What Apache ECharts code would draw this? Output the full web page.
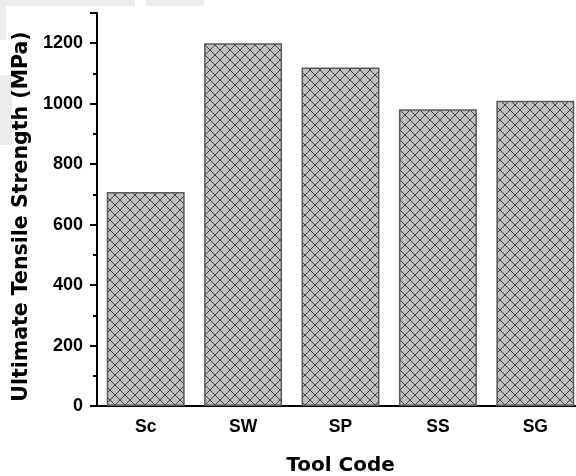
<!DOCTYPE html>
<html>
<head>
<meta charset="utf-8">
<script src="https://cdn.jsdelivr.net/npm/echarts@6/dist/echarts.min.js"></script>
<style>html,body{margin:0;padding:0;background:#fff;}#c{width:576px;height:476px;}</style>
</head>
<body>
<div id="c"></div>
<script>
var categories = ['Sc', 'SW', 'SP', 'SS', 'SG'];
var strengthValues = [708, 1200, 1120, 982, 1010];
var yTickLabels = [0, 200, 400, 600, 800, 1000, 1200];

function makePattern() {
  var s = 10;
  var cv = document.createElement('canvas');
  cv.width = s; cv.height = s;
  var ctx = cv.getContext('2d');
  ctx.fillStyle = '#c0c0c0';
  ctx.fillRect(0, 0, s, s);
  ctx.strokeStyle = '#404040';
  ctx.lineWidth = 1;
  ctx.beginPath();
  ctx.moveTo(-1, -1); ctx.lineTo(s + 1, s + 1);
  ctx.moveTo(s + 1, -1); ctx.lineTo(-1, s + 1);
  ctx.stroke();
  return cv;
}

var chart = echarts.init(document.getElementById('c'));
var font = 'Liberation Sans, Arial, sans-serif';
var titleFont = 'DejaVu Sans, sans-serif';
chart.setOption({
  animation: false,
  backgroundColor: '#fff',
  graphic: [
    { type: 'rect', silent: true, z: -10, shape: { x: 0, y: 0, width: 135, height: 6 }, style: { fill: '#ececec' } },
    { type: 'rect', silent: true, z: -10, shape: { x: 146, y: 0, width: 58, height: 6 }, style: { fill: '#ececec' } },
    { type: 'rect', silent: true, z: -10, shape: { x: 0, y: 0, width: 6, height: 40 }, style: { fill: '#ececec' } },
    { type: 'rect', silent: true, z: -10, shape: { x: 0, y: 75, width: 12, height: 70 }, style: { fill: '#ececec' } }
  ],
  grid: { left: 97, top: 13, right: -8, bottom: 70, outerBoundsMode: 'none', containLabel: false },
  xAxis: [{
    type: 'category',
    data: categories,
    name: 'Tool Code',
    nameLocation: 'middle',
    nameGap: 50,
    nameTextStyle: { fontFamily: titleFont, fontWeight: 'bold', fontSize: 20, color: '#000' },
    axisLine: { lineStyle: { color: '#000', width: 2 } },
    axisTick: { alignWithLabel: true, length: 7, lineStyle: { color: '#000', width: 2 } },
    axisLabel: { fontFamily: font, fontWeight: 'bold', fontSize: 17.5, color: '#000', margin: 12 }
  }, {
    type: 'category',
    data: categories,
    position: 'bottom',
    axisLine: { show: false },
    axisTick: { length: 4, lineStyle: { color: '#000', width: 2 } },
    axisLabel: { show: false }
  }],
  yAxis: {
    type: 'value',
    min: 0,
    max: 1300,
    interval: 200,
    name: 'Ultimate Tensile Strength (MPa)',
    nameLocation: 'middle',
    nameGap: 61,
    nameTextStyle: { fontFamily: titleFont, fontWeight: 'bold', fontSize: 20.5, color: '#000', padding: [0, 14, 0, 0] },
    axisLine: { show: true, lineStyle: { color: '#000', width: 2 } },
    axisTick: { show: true, length: 7, lineStyle: { color: '#000', width: 2 } },
    minorTick: { show: true, splitNumber: 2, length: 4, lineStyle: { color: '#000', width: 2 } },
    splitLine: { show: false },
    axisLabel: {
      fontFamily: font, fontWeight: 'bold', fontSize: 18, color: '#000', margin: 14,
      showMaxLabel: false,
      formatter: function (v) { return yTickLabels.indexOf(v) >= 0 ? String(v) : ''; }
    }
  },
  series: [{
    type: 'bar',
    data: strengthValues,
    barCategoryGap: '20%',
    itemStyle: {
      color: { image: makePattern(), repeat: 'repeat' },
      borderColor: '#5a5a5a',
      borderWidth: 1.5
    }
  }]
});
</script>
</body>
</html>
